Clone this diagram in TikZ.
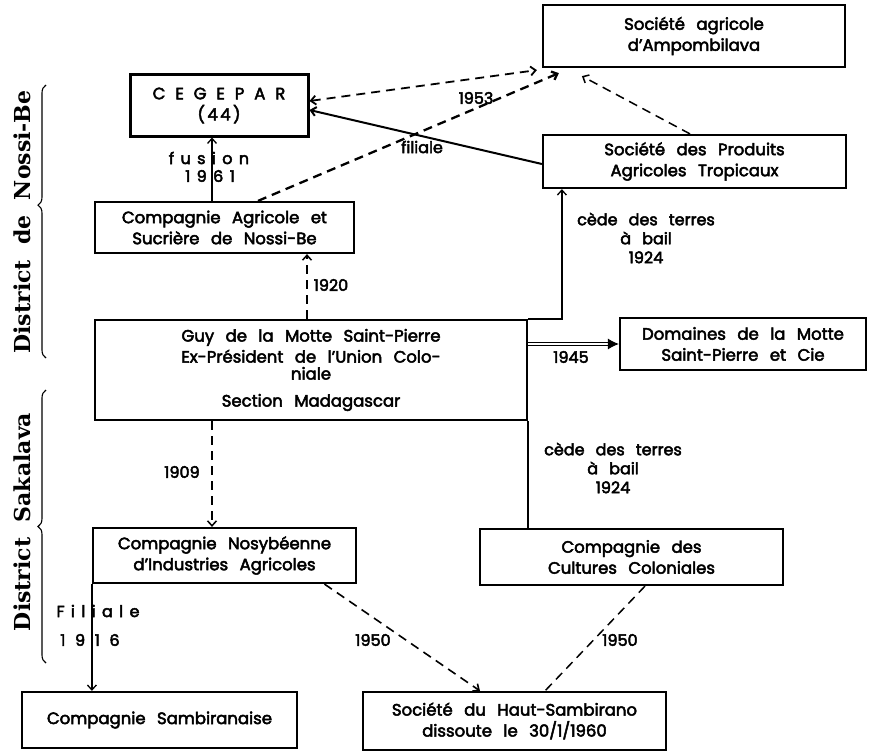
\documentclass[tikz,border=0pt]{standalone}
\usepackage{fontspec}
\setsansfont{Poppins}[WordSpace=2.6,FakeBold=3]
\newfontfamily\distfont{DejaVu Serif}
\usetikzlibrary{arrows.meta}
\usetikzlibrary{decorations.pathreplacing}

\begin{document}
\begin{tikzpicture}[x=1pt,y=-1pt,>={Straight Barb[length=5pt,width=9pt]},
		box/.style={draw,line width=2.2pt,inner sep=0pt,align=center,font=\sffamily\fontsize{16.5}{21}\selectfont},
		lbl/.style={inner sep=0pt,align=center,font=\sffamily\fontsize{16}{19}\selectfont},
		dashlink/.style={dash pattern=on 9pt off 6pt,line width=1.8pt},
		link/.style={line width=1.3pt},
		district/.style={rotate=90,font=\distfont\bfseries\fontsize{22}{22}\selectfont}]
	\useasboundingbox (0,0) rectangle (870,752);

	% districts
	\node[district] (nossibe) at (22,222) {District\ \ de\ \ Nossi-Be};
	\node[district] (sakalava) at (22,522) {District\ \ Sakalava};
	\draw[decorate,decoration={brace,amplitude=8pt,aspect=0.56},line width=1.1pt] (46,358) -- (46,85);
	\draw[decorate,decoration={brace,amplitude=8pt,aspect=0.5},line width=1.1pt] (46,663) -- (46,390);

	% societes
	\node[box,minimum width=302pt,minimum height=62pt] (amp) at (694,36) {Société agricole\\d'Ampombilava};
	\node[box,line width=3pt,minimum width=178pt,minimum height=61pt] (cegepar) at (219,105.5) {\addfontfeature{LetterSpace=60}CEGEPAR\\\addfontfeature{LetterSpace=15}(44)};
	\node[box,minimum width=303pt,minimum height=53pt] (spat) at (694.5,161.5) {Société des Produits\\Agricoles Tropicaux};
	\node[box,minimum width=259pt,minimum height=51pt] (casn) at (224.5,227.5) {Compagnie Agricole et\\Sucrière de Nossi-Be};
	\node[box,minimum width=432pt,minimum height=100pt] (guy) at (311,370) {Guy de la Motte Saint-Pierre\\Ex-Président de l'Union Colo-\\[-4pt]niale\\[6pt]Section Madagascar};
	\node[box,minimum width=246pt,minimum height=52pt] (domaines) at (743,344) {Domaines de la Motte\\Saint-Pierre et Cie};
	\node[box,minimum width=263pt,minimum height=55pt] (cnia) at (224.5,555.5) {Compagnie Nosybéenne\\d'Industries Agricoles};
	\node[box,minimum width=303pt,minimum height=56pt] (ccc) at (631.5,557) {Compagnie des\\Cultures Coloniales};
	\node[box,minimum width=275pt,minimum height=56pt] (sambir) at (159.5,720) {Compagnie Sambiranaise};
	\node[box,minimum width=303pt,minimum height=58pt] (shs) at (514.5,721) {Société du Haut-Sambirano\\dissoute le 30/1/1960};

	% liens
	\draw[->,link] ([xshift=-12.5pt]casn.north) -- ([xshift=-7pt]cegepar.south);
	\node[lbl] (fusion) at (209,158) {\addfontfeature{LetterSpace=40}fusion};
	\node[lbl] (fusionyr) at (210,176) {\addfontfeature{LetterSpace=40}1961};

	\draw[->,line width=2pt] ([yshift=-2.5pt]spat.west) -- ([yshift=-4.5pt]cegepar.east);
	\node[lbl] (filiale) at (422,147) {filiale};

	\draw[<->,dashlink] ([yshift=4.5pt]cegepar.east) -- ([xshift=-5pt,yshift=-2pt]amp.south west);
	\draw[->,dashlink,line width=2.3pt] ([xshift=33.5pt]casn.north) -- ([xshift=17pt,yshift=-5pt]amp.south west);
	\node[lbl] (yr1953) at (476,98) {1953};
	\draw[->,dashlink,line width=1.5pt] ([xshift=-4.5pt]spat.north) -- ([xshift=40pt,yshift=-8pt]amp.south west);

	\draw[->,dashlink,line width=1.5pt] ([xshift=-4pt]guy.north) -- ([xshift=82.5pt]casn.south);
	\node[lbl] (yr1920) at (331,285) {1920};

	\draw[->,link] (guy.north east) -| ([xshift=20pt]spat.south west);
	\node[lbl] (cede1) at (646,238) {cède des terres\\à bail\\1924};

	\draw[double,double distance=2.5pt,line width=1pt,-{Latex[length=11pt,width=11pt]}] (guy.east |- domaines.west) -- (domaines.west);
	\node[lbl] (yr1945) at (571,357) {1945};

	\draw[link] (guy.south east) -- (guy.south east |- ccc.north);
	\node[lbl] (cede2) at (613,468) {cède des terres\\à bail\\1924};

	\draw[->,dashlink,line width=1.5pt] ([xshift=-99pt]guy.south) -- ([xshift=-12.5pt]cnia.north);
	\node[lbl] (yr1909) at (182,472) {1909};

	\draw[->,link] (cnia.south west) -- (cnia.south west |- sambir.north);
	\node[lbl] (filiale2) at (98,611) {\addfontfeature{LetterSpace=40}Filiale};
	\node[lbl] (yr1916) at (90,640) {\addfontfeature{LetterSpace=60}1916};

	\draw[->,dashlink,line width=1.6pt] ([xshift=100pt]cnia.south) -- ([xshift=-34.5pt]shs.north);
	\node[lbl] (yr1950a) at (373,640) {1950};
	\draw[dashlink,line width=1.5pt] ([xshift=13.5pt]ccc.south) -- ([xshift=30.5pt]shs.north);
	\node[lbl] (yr1950b) at (620,640) {1950};
\end{tikzpicture}
\end{document}
